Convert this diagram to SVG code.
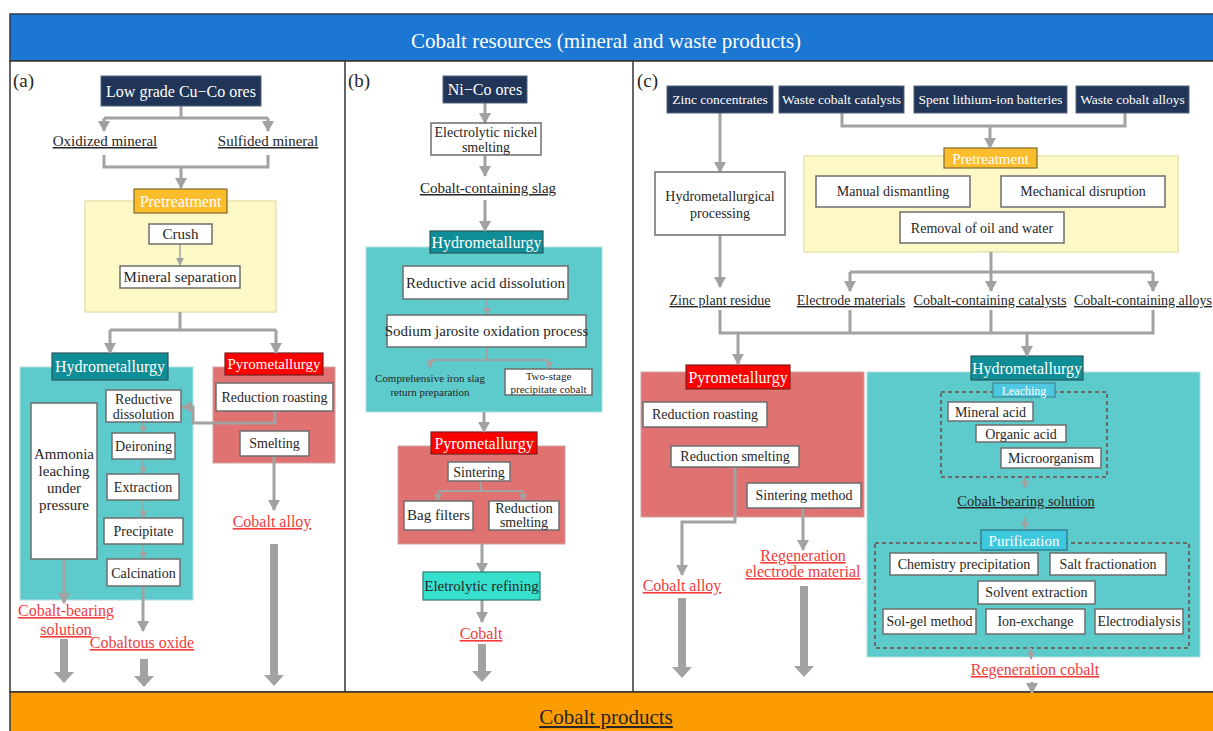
<svg xmlns="http://www.w3.org/2000/svg" width="1213" height="731" viewBox="0 0 1213 731">
<style>
text{font-family:"Liberation Serif","Times New Roman",serif;fill:#262626;text-anchor:middle}
.w{fill:#fff}
.r{fill:#f03c3c;text-decoration:underline;font-size:16px}
.u{text-decoration:underline}
.s16{font-size:16px}.s15{font-size:15px}.s14{font-size:14px}.s13{font-size:13.5px}.s11{font-size:11px}
.box{fill:#fff;stroke:#6e6e6e;stroke-width:1.5}
.navy{fill:#213558;stroke:#56657d;stroke-width:1}
.hyd{fill:#5dcbcb;stroke:#b5dede;stroke-width:1}
.hydl{fill:#0f8e97;stroke:#27575c;stroke-width:1.2}
.pyr{fill:#e07272;stroke:#cfa2a2;stroke-width:1}
.pyrl{fill:#fe0000;stroke:#7a2020;stroke-width:1.2}
.yel{fill:#fdf9c6;stroke:#e3dca6;stroke-width:1.2}
.yell{fill:#fbbd2b;stroke:#7e6a2c;stroke-width:1.2}
.ln{fill:none;stroke:#a2a2a2;stroke-width:3}
.ls{fill:none;stroke:#a2a2a2;stroke-width:1.5}
.dash{fill:none;stroke:#6a6a6a;stroke-width:2;stroke-dasharray:4 3}
.big{fill:#a2a2a2}
</style>
<defs>
<marker id="ah" markerUnits="userSpaceOnUse" markerWidth="12" markerHeight="12" refX="10" refY="6" orient="auto"><path d="M0,0 L11,6 L0,12 z" fill="#a2a2a2"/></marker>
<marker id="as" markerUnits="userSpaceOnUse" markerWidth="8" markerHeight="8" refX="7" refY="4" orient="auto"><path d="M0,0 L8,4 L0,8 z" fill="#a2a2a2"/></marker>
</defs>

<g id="frame">
<rect x="10" y="14" width="1210" height="47" fill="#1c77d2" stroke="#2b3a4a" stroke-width="1.5"/>
<rect x="10" y="61" width="1210" height="631" fill="#fff" stroke="#333" stroke-width="1.5"/>
<line x1="345" y1="61" x2="345" y2="692" stroke="#333" stroke-width="1.5"/>
<line x1="633" y1="61" x2="633" y2="692" stroke="#333" stroke-width="1.5"/>
<rect x="10" y="692" width="1210" height="45" fill="#fd9c00" stroke="#333" stroke-width="1.5"/>
<text x="606" y="48" class="w" style="font-size:21px">Cobalt resources (mineral and waste products)</text>
<text x="606" y="724" class="u" style="font-size:21px">Cobalt products</text>
<text x="13" y="87" style="font-size:19px;text-anchor:start">(a)</text>
<text x="348" y="87" style="font-size:19px;text-anchor:start">(b)</text>
<text x="637" y="87" style="font-size:19px;text-anchor:start">(c)</text>
</g>

<!-- containers -->
<g id="a-pretreatment"><rect x="85" y="201" width="191" height="111" class="yel"/><rect x="134" y="189" width="93" height="24" class="yell"/><text x="180.5" y="207" class="w s16">Pretreatment</text></g>
<g id="a-hydro"><rect x="20" y="367" width="173" height="233" class="hyd"/><rect x="52" y="353" width="116" height="27" class="hydl"/><text x="110" y="372" class="w s16">Hydrometallurgy</text></g>
<g id="a-pyro"><rect x="213" y="367" width="122" height="96" class="pyr"/><rect x="225" y="353" width="98" height="22" class="pyrl"/><text x="274" y="369" class="w s15">Pyrometallurgy</text></g>
<g id="b-hydro"><rect x="366" y="247" width="236" height="165" class="hyd"/><rect x="430" y="231" width="113" height="22" class="hydl"/><text x="486.5" y="248" class="w s16">Hydrometallurgy</text></g>
<g id="b-pyro"><rect x="398" y="446" width="167" height="98" class="pyr"/><rect x="431" y="432" width="106" height="22" class="pyrl"/><text x="484" y="449" class="w s16">Pyrometallurgy</text></g>
<g id="c-pretreatment"><rect x="804" y="156" width="374" height="96" class="yel"/><rect x="944" y="148" width="93" height="20" class="yell"/><text x="990.5" y="163.5" class="w s15">Pretreatment</text></g>
<g id="c-pyro"><rect x="641" y="372" width="223" height="145" class="pyr"/><rect x="686" y="365" width="104" height="24" class="pyrl"/><text x="738" y="383" class="w s16">Pyrometallurgy</text></g>
<g id="c-hydro"><rect x="867" y="372" width="333" height="285" class="hyd"/><rect x="971" y="356" width="112" height="24" class="hydl"/><text x="1027" y="374" class="w s16">Hydrometallurgy</text></g>
<g id="c-leaching"><rect x="941" y="392" width="166" height="85" class="dash"/><rect x="993" y="383" width="62" height="14" fill="#4ec8e0" stroke="#3a7a88" stroke-width="1"/><text x="1024" y="394.5" class="w" style="font-size:12px">Leaching</text></g>
<g id="c-purification"><rect x="875" y="543" width="314" height="105" class="dash"/><rect x="981" y="530" width="86" height="20" fill="#3ec8de" stroke="#2f6f80" stroke-width="1.2"/><text x="1024" y="545.5" class="w s15">Purification</text></g>

<g id="connectors">
<!-- a -->
<path class="ln" d="M181,106 V118 M104,118 H268"/>
<path class="ln" d="M104,118 V131" marker-end="url(#ah)"/>
<path class="ln" d="M268,118 V131" marker-end="url(#ah)"/>
<path class="ln" d="M104,155 V167 H268 V155"/>
<path class="ln" d="M181,167 V188" marker-end="url(#ah)"/>
<path class="ls" d="M180,244 V265" marker-end="url(#as)"/>
<path class="ln" d="M180,312 V330 M110,330 H276"/>
<path class="ln" d="M110,330 V353" marker-end="url(#ah)"/>
<path class="ln" d="M276,330 V353" marker-end="url(#ah)"/>
<path class="ln" d="M275,411 V423 H193 V407 H182" marker-end="url(#ah)"/>
<path class="ls" d="M143,422 V433" marker-end="url(#as)"/>
<path class="ls" d="M143,459 V474" marker-end="url(#as)"/>
<path class="ls" d="M143,500 V518" marker-end="url(#as)"/>
<path class="ls" d="M143,544 V559" marker-end="url(#as)"/>
<path class="ln" d="M274,456 V510" marker-end="url(#ah)"/>
<path class="ln" d="M64,559 V603" marker-end="url(#ah)"/>
<path class="ln" d="M143,586 V631" marker-end="url(#ah)"/>
<polygon class="big" points="270,544 278,544 278,675 284,675 274,686 264,675 270,675"/>
<polygon class="big" points="60,639 68,639 68,672 74,672 64,683 54,672 60,672"/>
<polygon class="big" points="140,659 148,659 148,676 154,676 144,687 134,676 140,676"/>
<!-- b -->
<path class="ln" d="M485,103 V123" marker-end="url(#ah)"/>
<path class="ln" d="M485,155 V176" marker-end="url(#ah)"/>
<path class="ln" d="M485,200 V231" marker-end="url(#ah)"/>
<path class="ls" d="M487,299 V315" marker-end="url(#as)"/>
<path class="ln" d="M487,347 V360 M430,360 H549" style="stroke-width:2"/>
<path class="ls" d="M430,360 V368" marker-end="url(#as)" style="stroke-width:2"/>
<path class="ls" d="M549,360 V369" marker-end="url(#as)" style="stroke-width:2"/>
<path class="ln" d="M484,412 V432" marker-end="url(#ah)"/>
<path class="ln" d="M481,481 V491 M438,491 H523" style="stroke-width:2"/>
<path class="ls" d="M438,491 V501" marker-end="url(#as)" style="stroke-width:2"/>
<path class="ls" d="M523,491 V501" marker-end="url(#as)" style="stroke-width:2"/>
<path class="ln" d="M482,544 V573" marker-end="url(#ah)"/>
<path class="ln" d="M482,600 V622" marker-end="url(#ah)"/>
<polygon class="big" points="478,644 486,644 486,671 492,671 482,682 472,671 478,671"/>
<!-- c -->
<path class="ln" d="M842,113 V126 H1125 V113"/>
<path class="ln" d="M990,126 V148" marker-end="url(#ah)"/>
<path class="ln" d="M720,113 V172" marker-end="url(#ah)"/>
<path class="ln" d="M720,235 V287" marker-end="url(#ah)"/>
<path class="ln" d="M991,252 V272 M850,272 H1153"/>
<path class="ln" d="M850,272 V291" marker-end="url(#ah)"/>
<path class="ln" d="M991,272 V291" marker-end="url(#ah)"/>
<path class="ln" d="M1153,272 V291" marker-end="url(#ah)"/>
<path class="ln" d="M720,310 V333 H1153 V310 M850,310 V333 M991,310 V333"/>
<path class="ln" d="M738,333 V364" marker-end="url(#ah)"/>
<path class="ln" d="M1027,333 V356" marker-end="url(#ah)"/>
<path class="ln" d="M735,467 V522 H682 V575" marker-end="url(#ah)"/>
<path class="ln" d="M803,508 V550" marker-end="url(#ah)"/>
<polygon class="big" points="678,598 686,598 686,667 692,667 682,678 672,667 678,667"/>
<polygon class="big" points="800,586 808,586 808,666 814,666 804,677 794,666 800,666"/>
<path class="ls" d="M1025,477 V488" marker-end="url(#as)" style="stroke-width:2"/>
<path class="ls" d="M1025,517 V529" marker-end="url(#as)" style="stroke-width:2"/>
<path class="ls" d="M1031,648 V659" marker-end="url(#as)" style="stroke-width:2"/>
<path class="ls" d="M1032,682 V693" marker-end="url(#ah)" style="stroke-width:3"/>
</g>

<!-- panel a nodes -->
<g id="a-ores"><rect x="101" y="76" width="160" height="30" class="navy"/><text x="181" y="96.5" class="w s16">Low grade Cu−Co ores</text></g>
<g id="a-oxidized"><text x="105" y="146" class="u s15">Oxidized mineral</text></g>
<g id="a-sulfided"><text x="268" y="146" class="u s15">Sulfided mineral</text></g>
<g id="a-crush"><rect x="149" y="224" width="63" height="20" class="box"/><text x="180.5" y="239" class="s15">Crush</text></g>
<g id="a-sep"><rect x="120" y="266" width="120" height="22" class="box"/><text x="180" y="282" class="s15">Mineral separation</text></g>
<g id="a-ammonia"><rect x="31" y="403" width="66" height="156" class="box"/><text x="64" y="459" class="s15">Ammonia</text><text x="64" y="476" class="s15">leaching</text><text x="64" y="493" class="s15">under</text><text x="64" y="510" class="s15">pressure</text></g>
<g id="a-reddis"><rect x="106" y="390" width="75" height="32" class="box"/><text x="143.5" y="404" class="s14">Reductive</text><text x="143.5" y="419" class="s14">dissolution</text></g>
<g id="a-deiron"><rect x="112" y="433" width="63" height="26" class="box"/><text x="143.5" y="451" class="s14">Deironing</text></g>
<g id="a-extract"><rect x="107" y="474" width="72" height="26" class="box"/><text x="143" y="492" class="s14">Extraction</text></g>
<g id="a-precip"><rect x="104" y="518" width="79" height="26" class="box"/><text x="143.5" y="536" class="s14">Precipitate</text></g>
<g id="a-calc"><rect x="107" y="559" width="73" height="27" class="box"/><text x="143.5" y="577.5" class="s14">Calcination</text></g>
<g id="a-roast"><rect x="216" y="383" width="117" height="28" class="box"/><text x="274.5" y="402" class="s14">Reduction roasting</text></g>
<g id="a-smelt"><rect x="240" y="431" width="69" height="25" class="box"/><text x="274.5" y="448" class="s14">Smelting</text></g>
<g id="a-alloy"><text x="272" y="527" class="r">Cobalt alloy</text></g>
<g id="a-solution"><text x="66" y="616" class="r">Cobalt-bearing</text><text x="66" y="635" class="r">solution</text></g>
<g id="a-oxide"><text x="142" y="648" class="r">Cobaltous oxide</text></g>

<!-- panel b nodes -->
<g id="b-ores"><rect x="443" y="76" width="84" height="27" class="navy"/><text x="485" y="95" class="w s16">Ni−Co ores</text></g>
<g id="b-elec"><rect x="431" y="123" width="110" height="32" class="box"/><text x="486" y="137" class="s14">Electrolytic nickel</text><text x="486" y="152" class="s14">smelting</text></g>
<g id="b-slag"><text x="488" y="193" class="u s15">Cobalt-containing slag</text></g>
<g id="b-reddis"><rect x="403" y="266" width="165" height="33" class="box"/><text x="485.5" y="288" class="s15">Reductive acid dissolution</text></g>
<g id="b-jaro"><rect x="387" y="315" width="199" height="32" class="box"/><text x="486.5" y="336" class="s15">Sodium jarosite oxidation process</text></g>
<g id="b-comp"><text x="430" y="382" class="s11">Comprehensive iron slag</text><text x="430" y="396" class="s11">return preparation</text></g>
<g id="b-twostage"><rect x="505" y="369" width="87" height="26" class="box"/><text x="548.5" y="380" class="s11">Two-stage</text><text x="548.5" y="393" class="s11">precipitate cobalt</text></g>
<g id="b-sinter"><rect x="448" y="462" width="62" height="19" class="box"/><text x="479" y="476.5" class="s14">Sintering</text></g>
<g id="b-bag"><rect x="404" y="501" width="69" height="29" class="box"/><text x="438.5" y="520" class="s15">Bag filters</text></g>
<g id="b-redsmelt"><rect x="489" y="501" width="70" height="29" class="box"/><text x="524" y="513" class="s14">Reduction</text><text x="524" y="527" class="s14">smelting</text></g>
<g id="b-refining"><rect x="423" y="572" width="117" height="28" fill="#35e0cc" stroke="#2a7a72" stroke-width="1.2"/><text x="481.5" y="591" class="s15">Eletrolytic refining</text></g>
<g id="b-cobalt"><text x="481" y="639" class="r">Cobalt</text></g>

<!-- panel c nodes -->
<g id="c-zinc"><rect x="667" y="86" width="106" height="27" class="navy"/><text x="720" y="104" class="w s13">Zinc concentrates</text></g>
<g id="c-catal"><rect x="779" y="86" width="125" height="27" class="navy"/><text x="841.5" y="104" class="w s13">Waste cobalt catalysts</text></g>
<g id="c-lib"><rect x="914" y="86" width="153" height="27" class="navy"/><text x="990.5" y="104" class="w s13">Spent lithium-ion batteries</text></g>
<g id="c-walloy"><rect x="1076" y="86" width="113" height="27" class="navy"/><text x="1132.5" y="104" class="w s13">Waste cobalt alloys</text></g>
<g id="c-hmp"><rect x="655" y="172" width="130" height="63" class="box"/><text x="720" y="201" class="s14">Hydrometallurgical</text><text x="720" y="218" class="s14">processing</text></g>
<g id="c-manual"><rect x="816" y="176" width="154" height="31" class="box"/><text x="893" y="196" class="s14">Manual dismantling</text></g>
<g id="c-mech"><rect x="1001" y="176" width="164" height="31" class="box"/><text x="1083" y="196" class="s14">Mechanical disruption</text></g>
<g id="c-removal"><rect x="900" y="212" width="164" height="31" class="box"/><text x="982" y="233" class="s14">Removal of oil and water</text></g>
<g id="c-residue"><text x="720" y="305" class="u s14">Zinc plant residue</text></g>
<g id="c-electrode"><text x="851" y="305" class="u s14">Electrode materials</text></g>
<g id="c-ccat"><text x="990" y="305" class="u s14">Cobalt-containing catalysts</text></g>
<g id="c-calloy"><text x="1143" y="305" class="u s14">Cobalt-containing alloys</text></g>
<g id="c-roast"><rect x="643" y="402" width="124" height="25" class="box"/><text x="705" y="419" class="s14">Reduction roasting</text></g>
<g id="c-smelt"><rect x="671" y="446" width="128" height="21" class="box"/><text x="735" y="461" class="s14">Reduction smelting</text></g>
<g id="c-sinter"><rect x="747" y="483" width="114" height="25" class="box"/><text x="804" y="500" class="s14">Sintering method</text></g>
<g id="c-alloy"><text x="682" y="591" class="r">Cobalt alloy</text></g>
<g id="c-regelec"><text x="803" y="561" class="r">Regeneration</text><text x="803" y="577" class="r">electrode material</text></g>
<g id="c-mineral"><rect x="948" y="402" width="85" height="19" class="box"/><text x="990.5" y="416.5" class="s14">Mineral acid</text></g>
<g id="c-organic"><rect x="976" y="425" width="90" height="17" class="box"/><text x="1021" y="438.5" class="s14">Organic acid</text></g>
<g id="c-micro"><rect x="1001" y="448" width="100" height="20" class="box"/><text x="1051" y="463" class="s14">Microorganism</text></g>
<g id="c-cbs"><text x="1026" y="506" class="u" style="font-size:14.5px">Cobalt-bearing solution</text></g>
<g id="c-chem"><rect x="890" y="553" width="148" height="22" class="box"/><text x="964" y="569" class="s14">Chemistry precipitation</text></g>
<g id="c-salt"><rect x="1050" y="553" width="116" height="22" class="box"/><text x="1108" y="569" class="s14">Salt fractionation</text></g>
<g id="c-solvent"><rect x="978" y="581" width="117" height="23" class="box"/><text x="1036.5" y="597" class="s14">Solvent extraction</text></g>
<g id="c-solgel"><rect x="883" y="609" width="93" height="25" class="box"/><text x="929.5" y="626" class="s14">Sol-gel method</text></g>
<g id="c-ion"><rect x="986" y="609" width="99" height="25" class="box"/><text x="1035.5" y="626" class="s14">Ion-exchange</text></g>
<g id="c-electro"><rect x="1095" y="609" width="88" height="25" class="box"/><text x="1139" y="626" class="s14">Electrodialysis</text></g>
<g id="c-regco"><text x="1035" y="675" class="r">Regeneration cobalt</text></g>
</svg>
